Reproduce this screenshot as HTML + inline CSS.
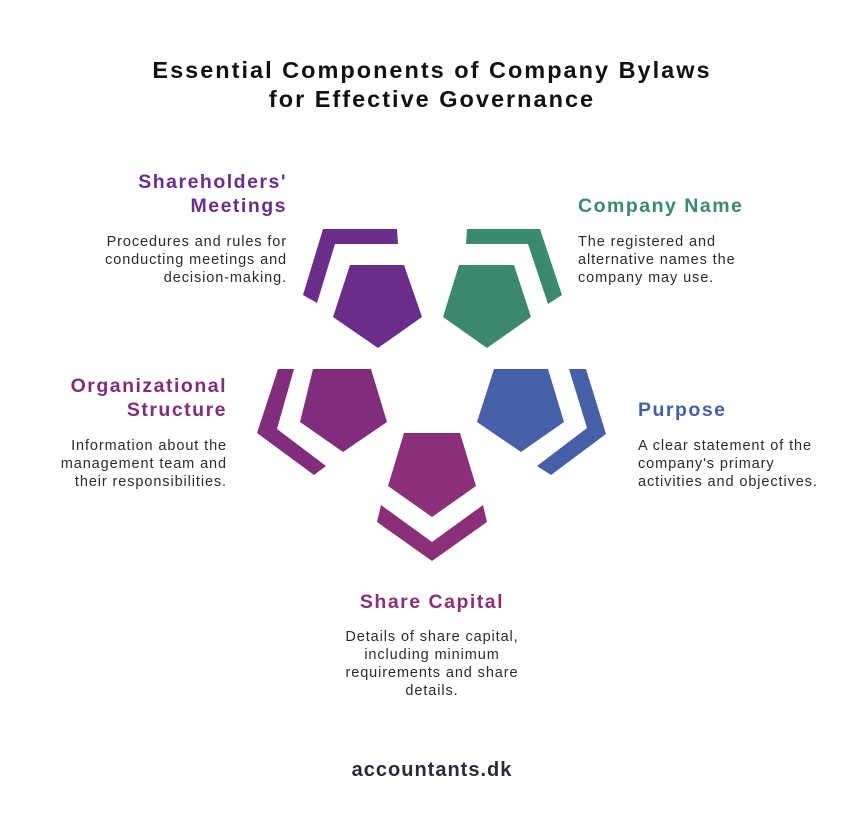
<!DOCTYPE html>
<html><head><meta charset="utf-8"><style>
html,body{margin:0;padding:0;background:#fff;}
svg{display:block;}
text{font-family:"Liberation Sans",sans-serif;}
.h{font-weight:bold;font-size:19.5px;letter-spacing:1.5px;}
.b{font-size:14.5px;fill:#2b2b2b;letter-spacing:0.9px;}
</style></head><body>
<svg width="864" height="828" viewBox="0 0 864 828" xmlns="http://www.w3.org/2000/svg">
<rect width="864" height="828" fill="#fff"/>
<text x="432" y="78" text-anchor="middle" font-size="23.5" font-weight="bold" letter-spacing="2" fill="#111">Essential Components of Company Bylaws</text>
<text x="432" y="107" text-anchor="middle" font-size="23.5" font-weight="bold" letter-spacing="2" fill="#111">for Effective Governance</text>

<polygon fill="#6b2d8c" points="350,265 404,265 422,317 378,348 333,317"/>
<polygon fill="#6b2d8c" points="323,229 397,229 398,244 335,244 317,303 303,295"/>
<polygon fill="#3b8a6e" points="459,265 514,265 531,317 487,348 443,317"/>
<polygon fill="#3b8a6e" points="467,229 540,229 562,295 548,304 528,244 466,244"/>
<polygon fill="#822d7c" points="313,369 371,369 387,422 343,452 300,422"/>
<polygon fill="#822d7c" points="278,369 294,369 277,429 326,466 314,475 257,433"/>
<polygon fill="#4560a8" points="494,369 548,369 564,422 521,452 477,422"/>
<polygon fill="#4560a8" points="569,369 586,369 606,434 551,475 537,466 587,428"/>
<polygon fill="#8b2f78" points="404,433 460,433 476,486 432,517 388,486"/>
<polygon fill="#8b2f78" points="381,505 377,522 432,561 487,522 483,505 432,542"/>

<text class="h" x="287" y="188" text-anchor="end" fill="#6b2d8c">Shareholders'</text>
<text class="h" x="287" y="212" text-anchor="end" fill="#6b2d8c">Meetings</text>
<text class="b" x="287" y="246" text-anchor="end">Procedures and rules for</text>
<text class="b" x="287" y="264" text-anchor="end">conducting meetings and</text>
<text class="b" x="287" y="282" text-anchor="end">decision-making.</text>

<text class="h" x="578" y="212" fill="#3b8a6e">Company Name</text>
<text class="b" x="578" y="246">The registered and</text>
<text class="b" x="578" y="264">alternative names the</text>
<text class="b" x="578" y="282">company may use.</text>

<text class="h" x="227" y="392" text-anchor="end" fill="#822d7c">Organizational</text>
<text class="h" x="227" y="416" text-anchor="end" fill="#822d7c">Structure</text>
<text class="b" x="227" y="450" text-anchor="end">Information about the</text>
<text class="b" x="227" y="468" text-anchor="end">management team and</text>
<text class="b" x="227" y="486" text-anchor="end">their responsibilities.</text>

<text class="h" x="638" y="416" fill="#4560a8">Purpose</text>
<text class="b" x="638" y="450">A clear statement of the</text>
<text class="b" x="638" y="468">company's primary</text>
<text class="b" x="638" y="486">activities and objectives.</text>

<text class="h" x="432" y="608" text-anchor="middle" fill="#8b2f78">Share Capital</text>
<text class="b" x="432" y="641" text-anchor="middle">Details of share capital,</text>
<text class="b" x="432" y="659" text-anchor="middle">including minimum</text>
<text class="b" x="432" y="677" text-anchor="middle">requirements and share</text>
<text class="b" x="432" y="695" text-anchor="middle">details.</text>

<text x="432" y="776" text-anchor="middle" font-size="20" font-weight="bold" letter-spacing="1" fill="#2a2a3a">accountants.dk</text>
</svg>
</body></html>
